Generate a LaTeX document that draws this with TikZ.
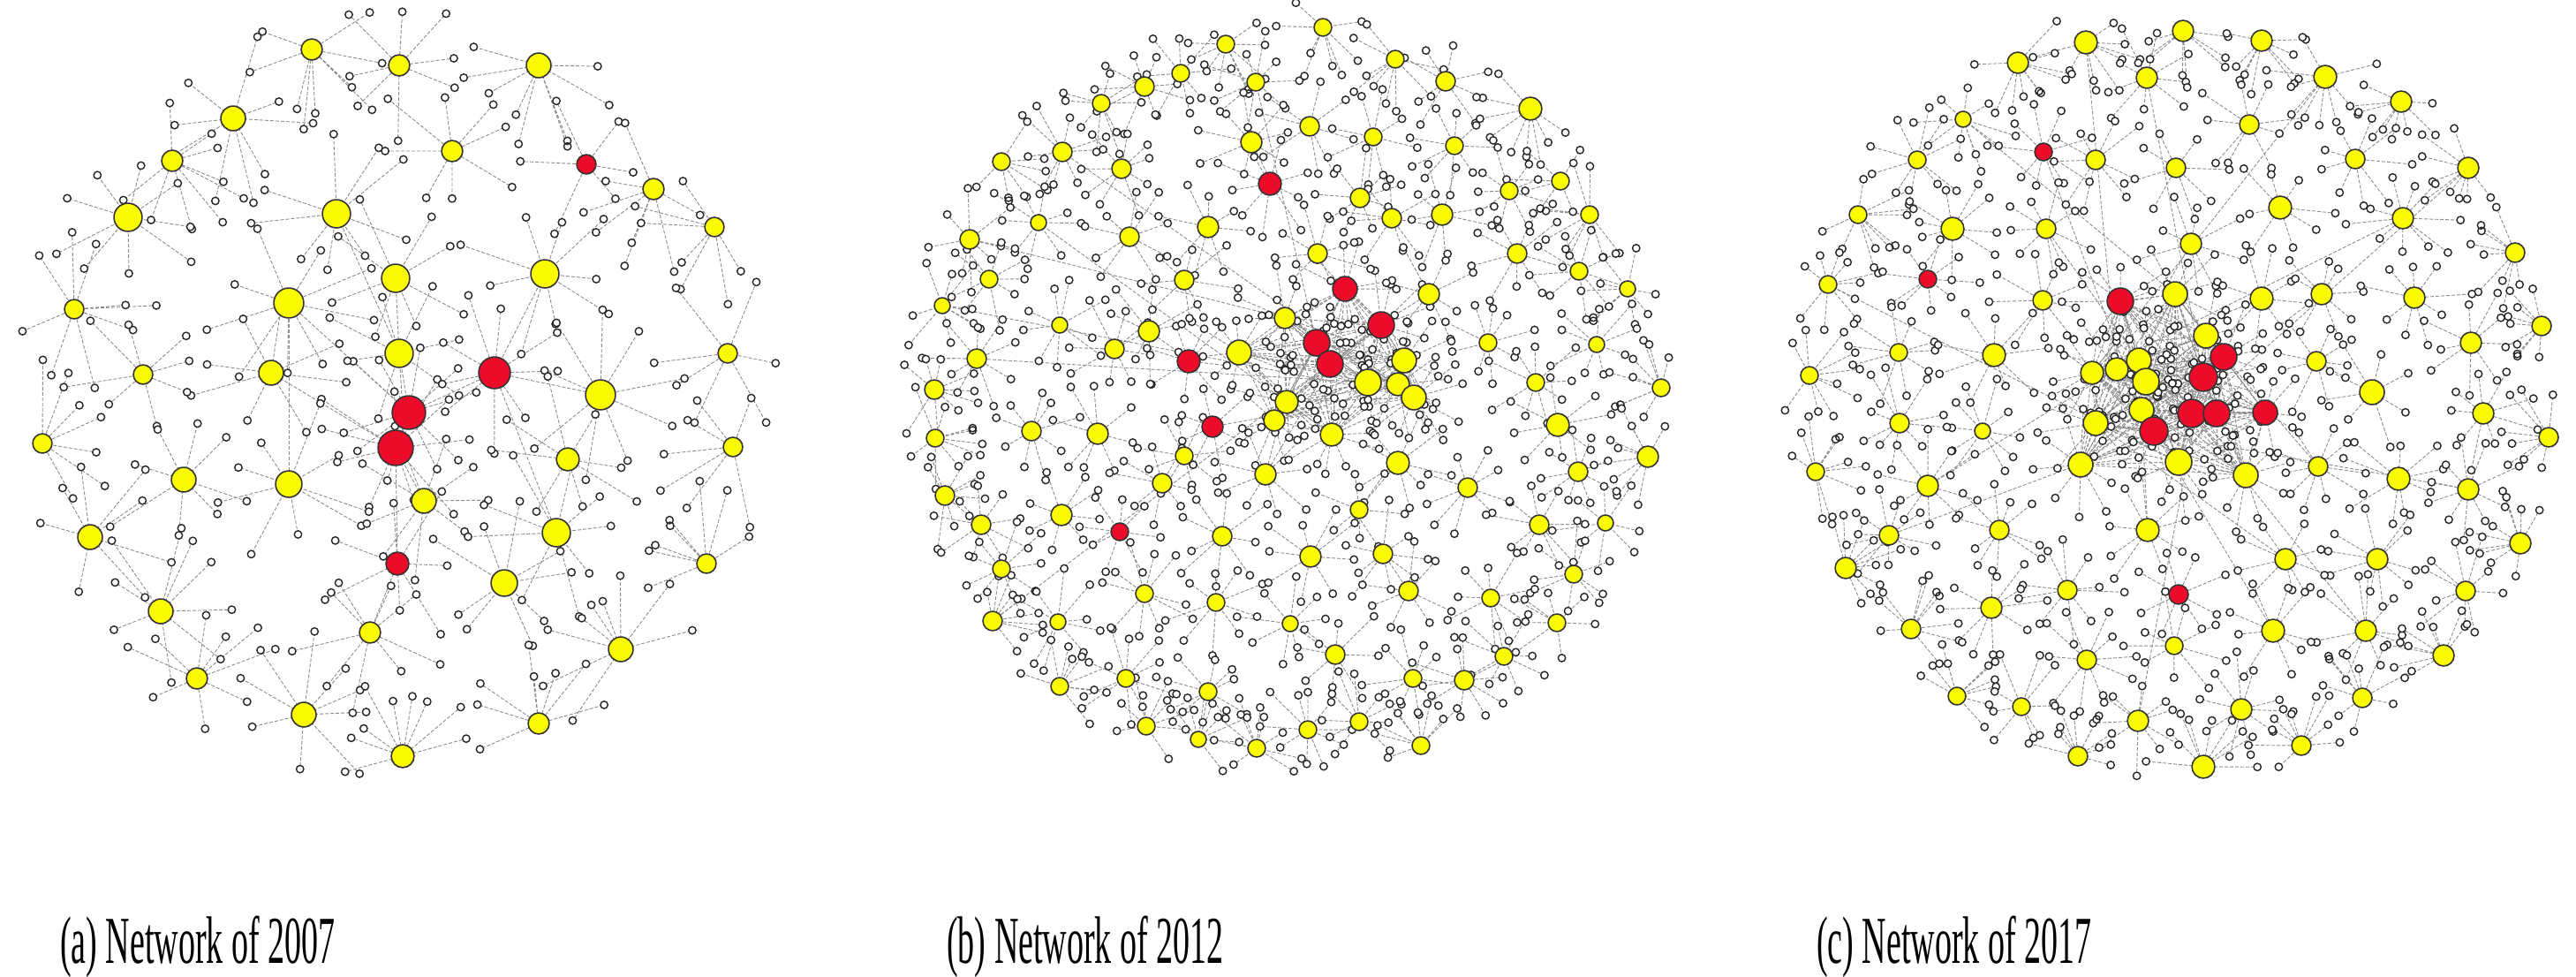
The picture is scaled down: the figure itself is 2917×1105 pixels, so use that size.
\documentclass[tikz,border=0pt]{standalone}
\usepackage{fontspec}
\setmainfont{Liberation Serif}
\usepackage{tikz}
\definecolor{yel}{RGB}{250,250,0}
\definecolor{rd}{RGB}{236,12,42}
\tikzset{
 hubnode/.style={circle, draw=black!80, line width=1.6bp, inner sep=0pt},
 leafdot/.style={fill=white, draw=black!85, line width=1.4bp},
 edge/.style={draw=black!45, line width=0.9bp, dash pattern=on 4bp off 2bp},
 caption/.style={anchor=base west, inner sep=0pt, font=\fontsize{38bp}{40bp}\selectfont}
}
% pass 1: hub coordinates, leaf positions and edges
% #1 prefix, #2 cx, #3 cy, #4 R, #5 dmin, #6 dvar, #7 cluster size, #8 prob, #9 list
\newcommand\netedges[9]{%
 \foreach \hx/\hy/\hr/\hc/\hn [count=\hi] in #9{%
   \coordinate (#1\hi) at (\hx,\hy);
   \gdef\hedges{}\gdef\hleaves{}%
   \pgfmathsetmacro\hbase{360*rnd}%
   \foreach \k in {1,...,\hn}{%
     \pgfmathsetmacro\hang{\hbase+\k*360/\hn+30*(rnd-0.5)}%
     \pgfmathsetmacro\hdd{#5+\hr+#6*rnd}%
     \pgfmathsetmacro\hlx{\hx+\hdd*cos(\hang)}%
     \pgfmathsetmacro\hly{\hy+\hdd*sin(\hang)}%
     \pgfmathsetmacro\hfar{veclen(\hlx-#2,\hly-#3)>#4 ? 1 : 0}%
     \ifdim\hfar pt>0.5pt
       \pgfmathsetmacro\hlx{2*\hx-\hlx}%
       \pgfmathsetmacro\hly{2*\hy-\hly}%
     \fi
     \xdef\hedges{\hedges (#1\hi) -- (\hlx,\hly)}%
     \xdef\hleaves{\hleaves (\hlx,\hly) circle[radius=4.2]}%
   }%
   \draw[edge] \hedges;
   \expandafter\global\expandafter\let\csname lv#1\hi\endcsname\hleaves
   \ifnum\hi>#7\relax
     \pgfmathsetmacro\hp{rnd}%
     \ifdim\hp pt<#8pt
       \pgfmathtruncatemacro\hj{random(1,#7)}%
       \draw[edge] (#1\hi) -- (#1\hj);
     \fi
   \fi
 }%
}
% pass 2: leaves, then hubs on top
\newcommand\netnodes[2]{%
 \foreach \hx/\hy/\hr/\hc/\hn [count=\hi] in #2{%
   \expandafter\let\expandafter\curleaves\csname lv#1\hi\endcsname
   \path[leafdot] \curleaves;
 }%
 \foreach \hx/\hy/\hr/\hc/\hn [count=\hi] in #2{%
   \node[hubnode, fill=\hc, minimum size=2*\hr] (#1\hi-hub) at (#1\hi) {};
 }%
}
\def\lista{
463/467/19/rd/10, 448/507/20/rd/10, 560/422/18/rd/9, 450/638/13/rd/7, 664/186/11/rd/6,
353/56/12/yel/9, 452/74/12/yel/8, 610/74/14/yel/9, 264/134/14/yel/9, 512/171/12/yel/8,
195/182/12/yel/9, 740/214/12/yel/8, 145/246/16/yel/9, 381/242/16/yel/9, 809/257/11/yel/7,
84/350/11/yel/9, 327/343/17/yel/9, 448/315/16/yel/8, 617/310/16/yel/9, 452/400/16/yel/8,
307/422/14/yel/8, 162/424/11/yel/8, 680/447/17/yel/9, 48/502/11/yel/7, 643/520/13/yel/8,
824/400/11/yel/7, 830/506/11/yel/7, 208/543/14/yel/8, 327/548/15/yel/9, 480/567/14/yel/9,
630/603/16/yel/9, 102/608/14/yel/8, 571/660/15/yel/9, 800/638/11/yel/8, 182/692/14/yel/9,
419/716/12/yel/9, 703/735/14/yel/9, 223/768/12/yel/9, 344/809/14/yel/9, 610/819/12/yel/8,
456/856/13/yel/9}
\def\listb{
1491/388/15/rd/12, 1506/412/15/rd/12, 1564/368/15/rd/12, 1523/327/14/rd/10, 1590/408/14/yel/12,
1549/433/15/yel/12, 1583/435/13/yel/11, 1601/450/14/yel/12, 1457/455/13/yel/10, 1443/476/12/yel/10,
1508/492/13/yel/10, 1403/399/14/yel/10, 1455/360/12/yel/9,
1438/208/13/rd/9, 1346/409/13/rd/8, 1373/483/12/rd/8, 1268/602/10/rd/8,
1388/50/10/yel/9, 1337/83/10/yel/8, 1296/98/11/yel/9, 1422/93/10/yel/9, 1247/117/10/yel/9,
1417/161/12/yel/9, 1203/172/11/yel/9, 1134/183/10/yel/8, 1270/191/11/yel/9, 1176/252/9/yel/9,
1368/257/12/yel/8, 1098/271/11/yel/9, 1279/268/11/yel/9, 1120/316/10/yel/9, 1341/317/11/yel/8,
1067/346/9/yel/9, 1200/368/9/yel/9, 1301/375/12/yel/9, 1262/395/11/yel/8, 1106/406/11/yel/9,
1058/441/11/yel/9, 1498/31/10/yel/8, 1580/67/10/yel/9, 1637/92/11/yel/8, 1733/123/13/yel/9,
1483/143/11/yel/8, 1555/155/10/yel/8, 1647/165/10/yel/9, 1540/224/11/yel/9, 1576/247/11/yel/9,
1633/243/12/yel/8, 1709/216/10/yel/9, 1767/205/10/yel/6, 1800/243/10/yel/9, 1492/287/11/yel/8,
1718/287/11/yel/9, 1788/307/10/yel/9, 1843/327/9/yel/9, 1618/333/12/yel/8, 1685/388/10/yel/9,
1808/390/9/yel/9, 1739/433/10/yel/9, 1881/439/10/yel/9, 1059/496/10/yel/9, 1168/488/11/yel/9,
1243/491/12/yel/8, 1341/516/10/yel/9, 1316/547/11/yel/8, 1433/537/12/yel/9, 1070/561/11/yel/9,
1111/594/11/yel/9, 1202/583/12/yel/8, 1384/607/11/yel/9, 1134/644/10/yel/9, 1296/672/10/yel/10,
1377/682/10/yel/9, 1124/703/11/yel/9, 1198/704/9/yel/10, 1275/768/10/yel/10, 1200/777/10/yel/9,
1368/783/10/yel/10, 1298/822/10/yel/9, 1357/837/9/yel/9, 1423/847/10/yel/10, 1583/524/13/yel/9,
1764/481/13/yel/8, 1866/517/12/yel/9, 1787/534/11/yel/9, 1662/552/11/yel/9, 1539/577/10/yel/6,
1743/594/11/yel/9, 1818/592/9/yel/8, 1484/630/12/yel/9, 1566/627/11/yel/9, 1595/669/11/yel/8,
1782/650/10/yel/9, 1688/677/10/yel/9, 1461/706/9/yel/9, 1763/705/10/yel/8, 1512/741/11/yel/8,
1703/743/10/yel/9, 1600/768/10/yel/10, 1658/770/11/yel/10, 1481/826/10/yel/10, 1539/817/10/yel/10,
1609/844/10/yel/9}
\def\listc{
2369/422/13/yel/10, 2397/418/13/yel/10, 2422/408/14/yel/10, 2430/432/15/yel/10, 2425/464/14/yel/10,
2373/479/14/yel/10, 2439/488/16/rd/10, 2482/468/16/rd/10, 2510/468/15/rd/10, 2495/427/16/rd/10,
2518/404/15/rd/10, 2565/467/14/rd/9, 2498/380/14/yel/10, 2463/333/14/yel/10, 2467/523/15/yel/10,
2356/526/14/yel/10, 2401/341/15/rd/10, 2543/538/14/yel/10,
2314/172/10/rd/9, 2183/316/10/rd/9, 2467/673/11/rd/8,
2362/48/13/yel/9, 2285/71/12/yel/10, 2431/88/12/yel/9, 2472/35/12/yel/8, 2223/135/9/yel/10,
2373/181/11/yel/9, 2171/181/10/yel/10, 2104/243/10/yel/10, 2211/259/13/yel/10, 2317/259/11/yel/9,
2070/322/10/yel/10, 2313/340/11/yel/9, 2150/399/10/yel/10, 2258/402/13/yel/9, 2049/425/10/yel/10,
2151/479/11/yel/10, 2245/488/9/yel/10, 2056/534/10/yel/10, 2183/550/12/yel/10, 2139/606/11/yel/10,
2264/600/11/yel/10, 2090/643/12/yel/10, 2432/600/13/yel/9, 2341/668/11/yel/10, 2255/688/12/yel/10,
2164/712/11/yel/10, 2462/731/10/yel/9, 2363/747/11/yel/10, 2216/788/10/yel/10, 2289/800/10/yel/9,
2421/816/12/yel/10, 2353/856/11/yel/10, 2561/46/12/yel/9, 2633/87/13/yel/9, 2719/115/12/yel/9,
2547/141/11/yel/9, 2464/190/11/yel/8, 2667/180/11/yel/9, 2795/190/12/yel/9, 2582/235/13/yel/8,
2721/247/12/yel/10, 2481/276/12/yel/9, 2848/286/11/yel/9, 2561/338/13/yel/9, 2629/333/12/yel/9,
2734/337/12/yel/9, 2878/369/11/yel/9, 2798/388/12/yel/9, 2623/409/11/yel/9, 2686/444/14/yel/8,
2812/468/12/yel/9, 2886/495/11/yel/8, 2625/528/11/yel/10, 2716/542/13/yel/9, 2795/554/12/yel/10,
2854/615/12/yel/10, 2588/633/12/yel/9, 2692/633/12/yel/10, 2792/669/11/yel/10, 2574/714/13/yel/9,
2679/714/12/yel/10, 2767/742/12/yel/9, 2538/803/12/yel/10, 2675/790/11/yel/10, 2606/844/11/yel/10,
2495/868/13/yel/9}
\begin{document}
\begin{tikzpicture}[x=1bp,y=-1bp]
\pgfmathsetseed{4242}
\fill[white] (0,0) rectangle (2917,1105);
\useasboundingbox (0,0) rectangle (2917,1105);

% ---------- edges ----------
\netedges{a}{446}{446}{440}{40}{45}{0}{0}{\lista}
\draw[edge] (a2) -- (a4);
\draw[edge] (a1) -- (a3);
\draw[edge] (a1) -- (a2);
\draw[edge] (a17) -- (a1);
\draw[edge] (a20) -- (a1);
\draw[edge] (a18) -- (a20);
\draw[edge] (a19) -- (a3);
\draw[edge] (a3) -- (a31);
\draw[edge] (a21) -- (a2);
\draw[edge] (a30) -- (a2);
\draw[edge] (a17) -- (a29);
\draw[edge] (a3) -- (a23);
\draw[edge] (a4) -- (a36);
\draw[edge] (a14) -- (a20);

\netedges{b}{1456}{442}{440}{22}{30}{13}{0.12}{\listb}
\foreach \i in {1,...,13}{\foreach \j in {1,...,13}{\ifnum\i<\j \draw[edge] (b\i) -- (b\j);\fi}}

\netedges{c}{2460}{446}{442}{22}{32}{18}{0.2}{\listc}
\foreach \i in {1,...,18}{\foreach \j in {1,...,18}{\ifnum\i<\j \draw[edge] (c\i) -- (c\j);\fi}}

% ---------- nodes ----------
\netnodes{a}{\lista}
\netnodes{b}{\listb}
\netnodes{c}{\listc}

% ---------- captions ----------
\node[caption] (capa) at (68,1090) {\scalebox{1}[2.0]{(a) Network of 2007}};
\node[caption] (capb) at (1072,1090) {\scalebox{1}[2.0]{(b) Network of 2012}};
\node[caption] (capc) at (2057,1090) {\scalebox{1}[2.0]{(c) Network of 2017}};
\end{tikzpicture}
\end{document}
